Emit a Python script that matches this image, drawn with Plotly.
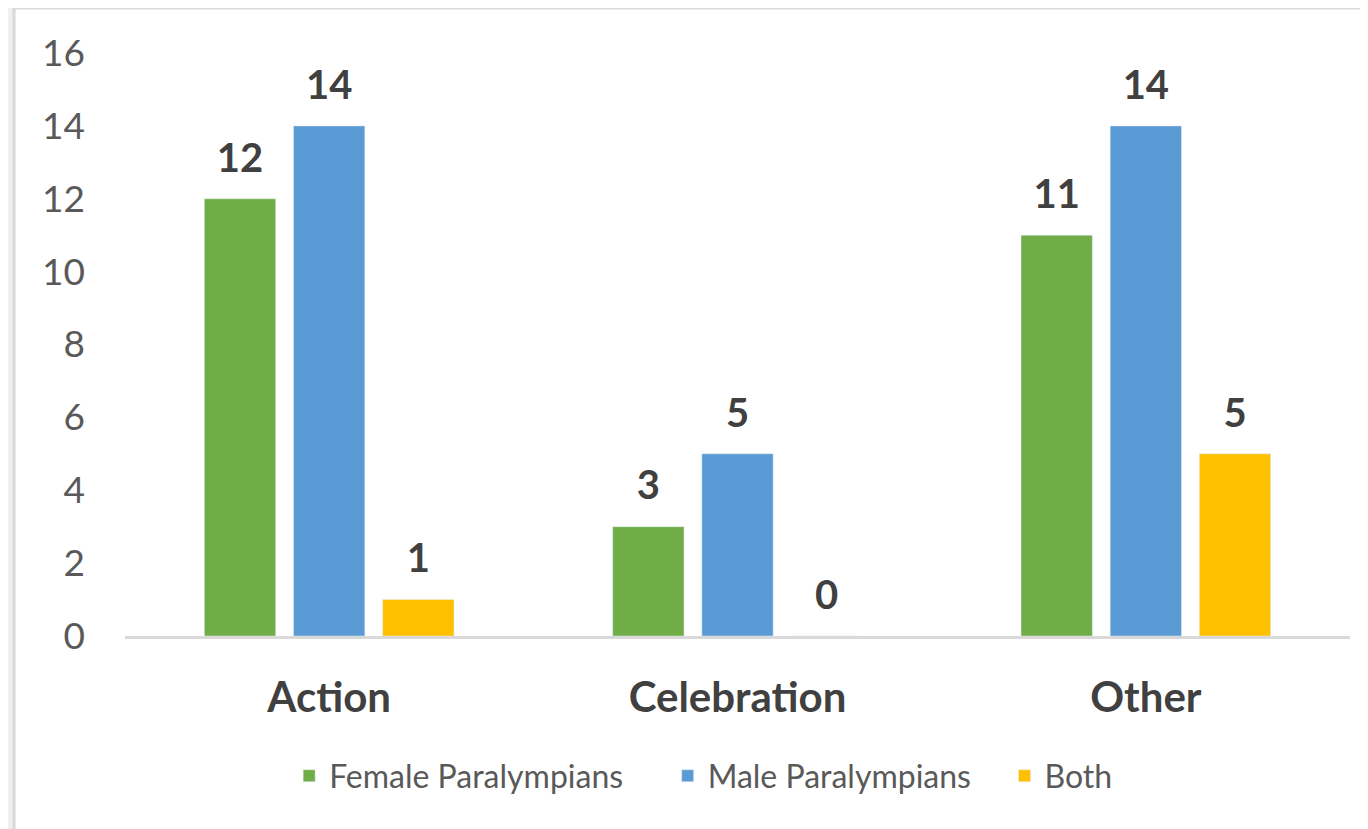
import plotly.graph_objects as go

categories = ["Action", "Celebration", "Other"]
female = [12, 3, 11]
male = [14, 5, 14]
both = [1, 0, 5]

series = [
    ("Female Paralympians", female, "#70AD47"),
    ("Male Paralympians", male, "#5B9BD5"),
    ("Both", both, "#FFC000"),
]
legend_ids = ["legend", "legend2", "legend3"]
legend_x = [0.134, 0.443, 0.718]

fig = go.Figure()
for (name, vals, color), lg in zip(series, legend_ids):
    fig.add_trace(go.Bar(x=categories, y=vals, name=name, marker_color=color,
                         offsetgroup=name, legend=lg))
# value labels, grouped like the bars
for name, vals, color in series:
    fig.add_trace(go.Scatter(
        x=categories, y=vals, mode="text+markers", text=vals,
        textposition="top center", offsetgroup=name, showlegend=False,
        marker=dict(size=26, color="rgba(0,0,0,0)"), cliponaxis=False,
        textfont=dict(family="Lato", size=40, color="#404040", weight="bold"),
        hoverinfo="skip",
    ))

legend_style = dict(orientation="h", xanchor="left", y=-0.24, yanchor="middle",
                    font=dict(size=32, color="#595959"), bgcolor="rgba(0,0,0,0)",
                    itemwidth=30)

fig.update_layout(
    width=1368, height=829,
    barmode="group", bargap=0.345, bargroupgap=0.2,
    scattermode="group", scattergap=0.345,
    paper_bgcolor="#f0f0f0", plot_bgcolor="rgba(0,0,0,0)",
    margin=dict(l=117, r=26, t=45, b=201),
    font=dict(family="Lato", color="#595959"),
    legend=dict(x=legend_x[0], **legend_style),
    legend2=dict(x=legend_x[1], **legend_style),
    legend3=dict(x=legend_x[2], **legend_style),
    shapes=[dict(type="rect", xref="paper", yref="paper", x0=-0.0906, x1=1.2,
                 y0=-0.5, y1=1.077, fillcolor="white",
                 line=dict(color="#d9d9d9", width=3), layer="below")],
)
fig.update_xaxes(showline=True, linecolor="#d9d9d9", linewidth=3, ticks="",
                 tickfont=dict(size=42, color="#404040", weight="bold"),
                 ticklabelstandoff=23, automargin=False)
fig.update_yaxes(range=[0, 16], dtick=2, showgrid=False, zeroline=False,
                 showline=False, tickfont=dict(size=37, color="#595959"),
                 ticklabelstandoff=39, automargin=False)

fig.write_html("out.html")
